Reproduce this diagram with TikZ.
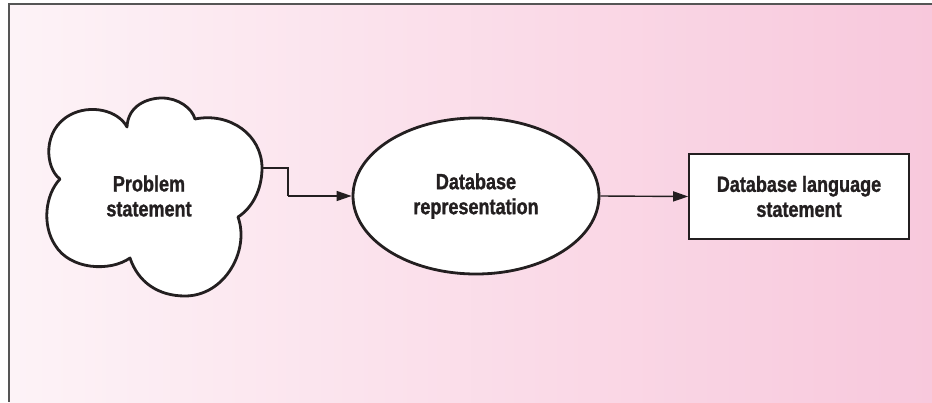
\documentclass[tikz,border=0pt]{standalone}
\usepackage{fontspec}
\setmainfont{Liberation Sans}[FakeStretch=0.82, BoldFeatures={FakeBold=1.2}]
\usetikzlibrary{arrows.meta,shapes.geometric}
\definecolor{txt}{HTML}{231F20}
\definecolor{bgl}{HTML}{FDF3F7}
\definecolor{bgr}{HTML}{F8C8DC}
\definecolor{frame}{HTML}{555555}
\tikzset{
  lbl/.style={font=\bfseries\fontsize{22}{25}\selectfont, text=txt, align=center},
  conn/.style={draw=txt, line width=1.4pt, -{Triangle[length=15pt,width=10pt]}},
  plainconn/.style={draw=txt, line width=1.4pt},
}
\begin{document}
\begin{tikzpicture}[x=1pt,y=-1pt]
\useasboundingbox (0,0) rectangle (932,402);
\fill[white] (0,0) rectangle (932,402);
\shade[left color=bgl, right color=bgr] (9,4) rectangle (932,402);
\draw[frame, line width=1.6pt] (9,402) -- (9,4) -- (932,4);

% cloud
\filldraw[fill=white, draw=txt, line width=2.8pt, line join=round]
  (60,179) .. controls (45,168) and (42,130) .. (70,115)
  .. controls (90,104) and (118,110) .. (127,127)
  .. controls (128,105) and (148,98) .. (162,98)
  .. controls (178,98) and (192,108) .. (195,119)
  .. controls (230,112) and (262,135) .. (262,168)
  .. controls (262,190) and (252,208) .. (238,217)
  .. controls (250,250) and (225,296) .. (185,296)
  .. controls (158,296) and (138,282) .. (130,258)
  .. controls (110,272) and (70,270) .. (55,245)
  .. controls (42,225) and (45,195) .. cycle;
\node[lbl] (prob) at (149,196) {Problem\\statement};
\coordinate (cloudR) at (262,168);
\coordinate (bend1) at (288,168);
\coordinate (bend2) at (288,196);

% ellipse
\node[ellipse, draw=txt, fill=white, line width=2.8pt, minimum width=246pt, minimum height=156pt, inner sep=0pt, lbl] (db) at (476,196) {Database\\representation};

% box
\node[rectangle, draw=txt, fill=white, line width=1.6pt, minimum width=220pt, minimum height=85pt, inner sep=0pt, lbl] (lang) at (799,196.5) {Database language\\statement};

\draw[plainconn] (cloudR) -- (bend1) -- (bend2);
\draw[conn] (bend2) -- (db.west);
\draw[conn] (db.east) -- (lang.west);
\end{tikzpicture}
\end{document}
